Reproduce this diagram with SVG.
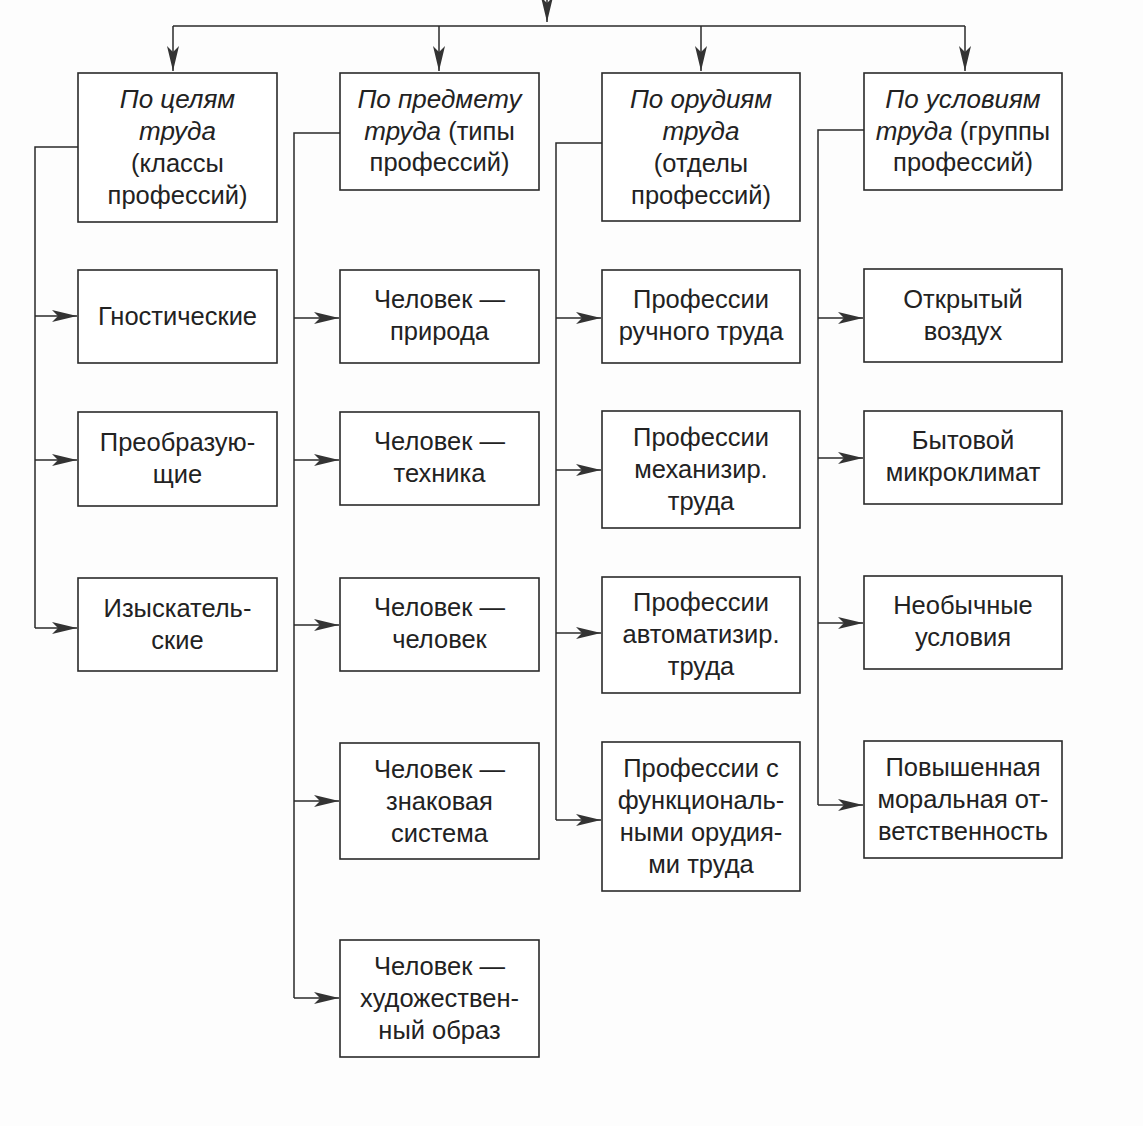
<svg xmlns="http://www.w3.org/2000/svg" width="1143" height="1126" viewBox="0 0 1143 1126">
<style>
.bg{fill:#fdfdfd}
.box{fill:#ffffff;stroke:#2a2a2a;stroke-width:1.6}
.ln{fill:none;stroke:#2a2a2a;stroke-width:1.5}
text{font-family:"Liberation Sans","DejaVu Sans",sans-serif;font-size:25.5px;fill:#222;text-anchor:middle}
.it{font-style:italic;font-size:26px}
</style>
<defs>
<marker id="ah" markerUnits="userSpaceOnUse" markerWidth="26" markerHeight="14" refX="25" refY="7" orient="auto">
<path d="M0,1 L25,7 L0,13 L6,7 Z" fill="#333"/>
</marker>
</defs>
<rect class="bg" x="0" y="0" width="1143" height="1126"/>
<g id="connectors">
<path class="ln" d="M547,0 V22" marker-end="url(#ah)"/>
<path class="ln" d="M173,26 H965"/>
<path class="ln" d="M173,26 V71" marker-end="url(#ah)"/>
<path class="ln" d="M439,26 V71" marker-end="url(#ah)"/>
<path class="ln" d="M701,26 V71" marker-end="url(#ah)"/>
<path class="ln" d="M965,26 V71" marker-end="url(#ah)"/>
<path class="ln" d="M78,147 H35 V628"/>
<path class="ln" d="M35,316 H77" marker-end="url(#ah)"/>
<path class="ln" d="M35,460 H77" marker-end="url(#ah)"/>
<path class="ln" d="M35,628 H77" marker-end="url(#ah)"/>
<path class="ln" d="M340,133 H294 V998"/>
<path class="ln" d="M294,318 H339" marker-end="url(#ah)"/>
<path class="ln" d="M294,460 H339" marker-end="url(#ah)"/>
<path class="ln" d="M294,625 H339" marker-end="url(#ah)"/>
<path class="ln" d="M294,801 H339" marker-end="url(#ah)"/>
<path class="ln" d="M294,998 H339" marker-end="url(#ah)"/>
<path class="ln" d="M602,143 H556 V820"/>
<path class="ln" d="M556,318 H601" marker-end="url(#ah)"/>
<path class="ln" d="M556,470 H601" marker-end="url(#ah)"/>
<path class="ln" d="M556,633 H601" marker-end="url(#ah)"/>
<path class="ln" d="M556,820 H601" marker-end="url(#ah)"/>
<path class="ln" d="M864,130 H818 V805"/>
<path class="ln" d="M818,318 H863" marker-end="url(#ah)"/>
<path class="ln" d="M818,458 H863" marker-end="url(#ah)"/>
<path class="ln" d="M818,623 H863" marker-end="url(#ah)"/>
<path class="ln" d="M818,805 H863" marker-end="url(#ah)"/>
</g>
<g id="h1"><rect class="box" x="78" y="73" width="199" height="149"/>
<text x="177.5" y="108" class="it">По целям</text><text x="177.5" y="140" class="it">труда</text><text x="177.5" y="172">(классы</text><text x="177.5" y="204">профессий)</text></g>
<g id="h2"><rect class="box" x="340" y="73" width="199" height="117"/>
<text x="439.5" y="108" class="it">По предмету</text><text x="439.5" y="140"><tspan class="it">труда</tspan> (типы</text><text x="439.5" y="171">профессий)</text></g>
<g id="h3"><rect class="box" x="602" y="73" width="198" height="148"/>
<text x="701" y="108" class="it">По орудиям</text><text x="701" y="140" class="it">труда</text><text x="701" y="172">(отделы</text><text x="701" y="204">профессий)</text></g>
<g id="h4"><rect class="box" x="864" y="73" width="198" height="117"/>
<text x="963" y="108" class="it">По условиям</text><text x="963" y="140"><tspan class="it">труда</tspan> (группы</text><text x="963" y="171">профессий)</text></g>

<g id="c1a"><rect class="box" x="78" y="270" width="199" height="93"/><text x="177.5" y="325">Гностические</text></g>
<g id="c1b"><rect class="box" x="78" y="412" width="199" height="94"/><text x="177.5" y="451">Преобразую-</text><text x="177.5" y="483">щие</text></g>
<g id="c1c"><rect class="box" x="78" y="578" width="199" height="93"/><text x="177.5" y="617">Изыскатель-</text><text x="177.5" y="649">ские</text></g>

<g id="c2a"><rect class="box" x="340" y="270" width="199" height="93"/><text x="439.5" y="308">Человек —</text><text x="439.5" y="340">природа</text></g>
<g id="c2b"><rect class="box" x="340" y="412" width="199" height="93"/><text x="439.5" y="450">Человек —</text><text x="439.5" y="482">техника</text></g>
<g id="c2c"><rect class="box" x="340" y="578" width="199" height="93"/><text x="439.5" y="616">Человек —</text><text x="439.5" y="648">человек</text></g>
<g id="c2d"><rect class="box" x="340" y="743" width="199" height="116"/><text x="439.5" y="778">Человек —</text><text x="439.5" y="810">знаковая</text><text x="439.5" y="842">система</text></g>
<g id="c2e"><rect class="box" x="340" y="940" width="199" height="117"/><text x="439.5" y="975">Человек —</text><text x="439.5" y="1007">художествен-</text><text x="439.5" y="1039">ный образ</text></g>

<g id="c3a"><rect class="box" x="602" y="270" width="198" height="93"/><text x="701" y="308">Профессии</text><text x="701" y="340">ручного труда</text></g>
<g id="c3b"><rect class="box" x="602" y="411" width="198" height="117"/><text x="701" y="446">Профессии</text><text x="701" y="478">механизир.</text><text x="701" y="510">труда</text></g>
<g id="c3c"><rect class="box" x="602" y="577" width="198" height="116"/><text x="701" y="611">Профессии</text><text x="701" y="643">автоматизир.</text><text x="701" y="675">труда</text></g>
<g id="c3d"><rect class="box" x="602" y="742" width="198" height="149"/><text x="701" y="777">Профессии с</text><text x="701" y="809">функциональ-</text><text x="701" y="841">ными орудия-</text><text x="701" y="873">ми труда</text></g>

<g id="c4a"><rect class="box" x="864" y="269" width="198" height="93"/><text x="963" y="308">Открытый</text><text x="963" y="340">воздух</text></g>
<g id="c4b"><rect class="box" x="864" y="411" width="198" height="93"/><text x="963" y="449">Бытовой</text><text x="963" y="481">микроклимат</text></g>
<g id="c4c"><rect class="box" x="864" y="576" width="198" height="93"/><text x="963" y="614">Необычные</text><text x="963" y="646">условия</text></g>
<g id="c4d"><rect class="box" x="864" y="741" width="198" height="117"/><text x="963" y="776">Повышенная</text><text x="963" y="808">моральная от-</text><text x="963" y="840">ветственность</text></g>
</svg>
